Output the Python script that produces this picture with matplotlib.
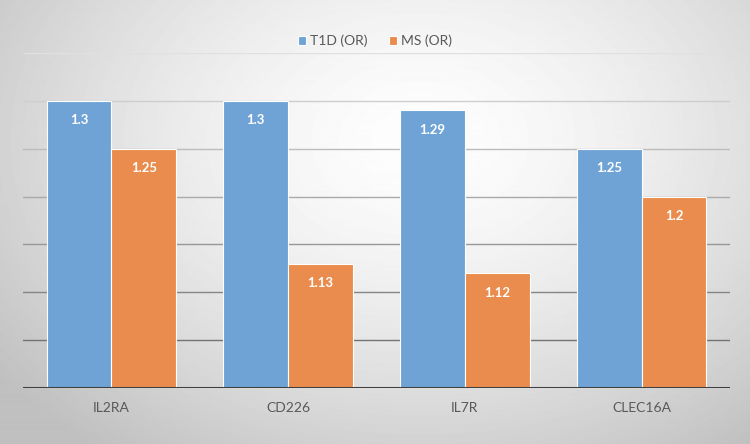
import numpy as np
import matplotlib.pyplot as plt

genes = ['IL2RA', 'CD226', 'IL7R', 'CLEC16A']
t1d = [1.3, 1.3, 1.29, 1.25]
ms = [1.25, 1.13, 1.12, 1.2]
series_names = ['T1D (OR)', 'MS (OR)']
colors = ['#6fa3d6', '#ea8c4d']

plt.rcParams['font.family'] = ['Lato', 'DejaVu Sans']

fig = plt.figure(figsize=(7.5, 4.44), dpi=100)

# radial grey background
bg = fig.add_axes([0, 0, 1, 1], zorder=-10)
yy, xx = np.mgrid[0:444, 0:750]
r = np.sqrt(((xx - 420) / 500.0) ** 2 + ((yy - 140) / 360.0) ** 2)
shade = np.clip(0.995 - 0.22 * r ** 1.5, 0.75, 0.99)
bg.imshow(shade, cmap='gray', vmin=0, vmax=1, aspect='auto', extent=[0, 1, 0, 1])
bg.axis('off')

ax = fig.add_axes([23 / 750, 56 / 444, 707 / 750, 335 / 444])
ax.patch.set_alpha(0)

x = np.arange(len(genes))
w = 0.367
b1 = ax.bar(x - w / 2, t1d, w, color=colors[0], edgecolor='white', linewidth=0.8,
            label=series_names[0], zorder=3)
b2 = ax.bar(x + w / 2, ms, w, color=colors[1], edgecolor='white', linewidth=0.8,
            label=series_names[1], zorder=3)

for bars, vals in [(b1, t1d), (b2, ms)]:
    for bar, v in zip(bars, vals):
        ax.annotate(f'{v:g}', (bar.get_x() + bar.get_width() / 2, v),
                    xytext=(0, -14), textcoords='offset points', ha='center', va='center',
                    color='white', fontweight='bold', fontsize=9.5, zorder=4)

ax.set_ylim(1.0, 1.35)
ax.set_xlim(-0.5, 3.5)

# gridlines, lighter towards the top
levels = np.arange(1.05, 1.351, 0.05)
greys = np.linspace(0.45, 0.88, len(levels))
for lv, g in zip(levels, greys):
    ax.axhline(lv, color=str(g), linewidth=1, zorder=1)
ax.axhline(1.0, color='#404040', linewidth=2.2, zorder=5)

for s in ax.spines.values():
    s.set_visible(False)
ax.set_yticks([])
ax.set_xticks(x)
ax.set_xticklabels(genes, color='#595959', fontsize=10)
ax.tick_params(axis='x', length=0, pad=10)

fig.legend(loc='upper center', bbox_to_anchor=(0.5, 0.95), ncol=2, frameon=False,
           fontsize=10, labelcolor='#595959', handlelength=0.6, handleheight=0.6,
           handletextpad=0.3, columnspacing=1.5)

fig.savefig('out.png', dpi=100)
